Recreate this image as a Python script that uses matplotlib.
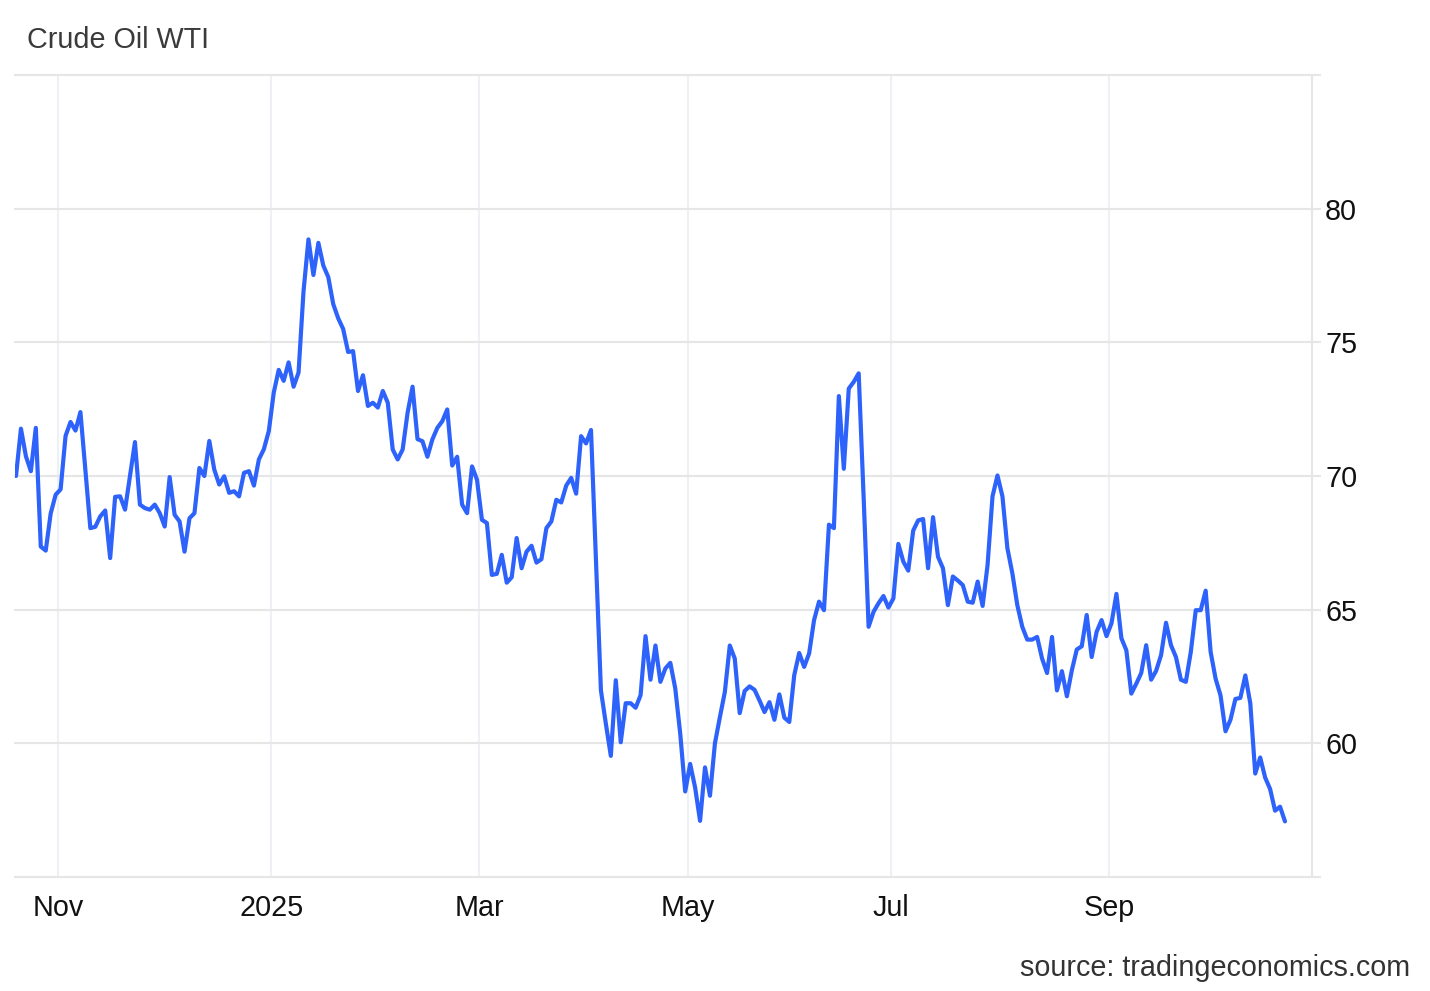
import numpy as np
import matplotlib
matplotlib.use("Agg")
import matplotlib.pyplot as plt

plt.rcParams["font.family"] = ["Liberation Sans", "DejaVu Sans"]

# daily WTI closes, one value per trading session (Oct 2024 - Oct 2025)
wti_close = [
    70.00, 71.77, 70.74, 70.18, 71.80, 67.36, 67.21, 68.60, 69.30, 69.50,
    71.50, 72.02, 71.70, 72.39, 70.20, 68.05, 68.10, 68.49, 68.71, 66.93,
    69.22, 69.24, 68.74, 70.00, 71.27, 68.93, 68.80, 68.74, 68.93, 68.61,
    68.11, 69.96, 68.55, 68.30, 67.17, 68.42, 68.61, 70.30, 70.00, 71.31,
    70.24, 69.68, 69.99, 69.37, 69.43, 69.24, 70.12, 70.18, 69.64, 70.62,
    71.00, 71.68, 73.12, 73.97, 73.56, 74.25, 73.34, 73.87, 76.90, 78.85,
    77.52, 78.72, 77.87, 77.44, 76.43, 75.90, 75.50, 74.64, 74.67, 73.18,
    73.77, 72.62, 72.74, 72.56, 73.18, 72.74, 70.99, 70.62, 70.99, 72.37,
    73.34, 71.38, 71.30, 70.72, 71.37, 71.80, 72.05, 72.49, 70.39, 70.72,
    68.93, 68.61, 70.36, 69.86, 68.36, 68.24, 66.30, 66.34, 67.05, 66.01,
    66.21, 67.68, 66.55, 67.17, 67.39, 66.76, 66.89, 68.05, 68.30, 69.11,
    69.01, 69.64, 69.93, 69.34, 71.49, 71.22, 71.72, 66.90, 61.98, 60.73,
    59.53, 62.36, 60.04, 61.50, 61.50, 61.33, 61.80, 64.01, 62.38, 63.66,
    62.30, 62.80, 63.01, 62.05, 60.36, 58.20, 59.23, 58.35, 57.10, 59.10,
    58.04, 60.00, 60.98, 61.92, 63.66, 63.17, 61.13, 61.96, 62.13, 62.00,
    61.60, 61.17, 61.54, 60.88, 61.83, 60.96, 60.80, 62.55, 63.38, 62.86,
    63.36, 64.61, 65.30, 64.98, 68.18, 68.05, 72.99, 70.27, 73.27, 73.52,
    73.84, 69.20, 64.36, 64.92, 65.24, 65.51, 65.08, 65.42, 67.46, 66.80,
    66.46, 67.96, 68.34, 68.39, 66.55, 68.46, 66.98, 66.55, 65.17, 66.24,
    66.09, 65.92, 65.30, 65.26, 66.05, 65.14, 66.67, 69.24, 70.02, 69.24,
    67.30, 66.36, 65.17, 64.36, 63.88, 63.88, 63.98, 63.17, 62.63, 63.98,
    61.98, 62.70, 61.76, 62.73, 63.51, 63.63, 64.80, 63.23, 64.17, 64.61,
    64.01, 64.49, 65.59, 63.93, 63.48, 61.86, 62.23, 62.63, 63.67, 62.38,
    62.71, 63.30, 64.51, 63.67, 63.23, 62.38, 62.30, 63.42, 64.98, 64.98,
    65.71, 63.42, 62.42, 61.79, 60.45, 60.88, 61.66, 61.70, 62.54, 61.50,
    58.87, 59.47, 58.72, 58.29, 57.48, 57.63, 57.08,
]

# first trading session of each labelled month (index into wti_close)
month_labels = ["Nov", "2025", "Mar", "May", "Jul", "Sep"]
month_first_session = [9, 52, 94, 136, 177, 221]

y_ticks = [55, 60, 65, 70, 75, 80, 85]
y_labels = ["", "60", "65", "70", "75", "80", ""]

LINE_BLUE = "#2d62fb"
GRID_GREY = "#e6e6e6"
VGRID = "#edf1f6"
FS = 20.7

fig = plt.figure(figsize=(14.3, 9.91), dpi=100)
ax = fig.add_axes([15 / 1430, 1 - 877 / 991, 1297 / 1430, 802 / 991])

x = np.arange(len(wti_close))
ax.plot(x, wti_close, color=LINE_BLUE, lw=3.0, solid_joinstyle="round",
        solid_capstyle="round", zorder=3)

ax.set_xlim(-0.2, 261.45)
ax.set_ylim(55, 85)

# horizontal grid
for yv in y_ticks:
    ax.axhline(yv, color=GRID_GREY, lw=1.5, zorder=1, clip_on=False)

# month grid
xt = [i - 0.5 for i in month_first_session]
ax.set_xticks(xt)
ax.set_xticklabels(month_labels)
for xv in xt:
    ax.axvline(xv, color=VGRID, lw=1.5, zorder=0)

ax.yaxis.tick_right()
ax.set_yticks(y_ticks)
ax.set_yticklabels(y_labels)

for side in ["top", "left", "bottom"]:
    ax.spines[side].set_visible(False)
ax.spines["right"].set_color(GRID_GREY)
ax.spines["right"].set_linewidth(1.5)

ax.tick_params(axis="y", length=6.5, width=1.5, color=GRID_GREY,
               labelsize=FS, labelcolor="#111111", pad=3)
ax.tick_params(axis="x", length=0, labelsize=FS, labelcolor="#111111", pad=12.5)

fig.text(27 / 1430, 1 - 48 / 991, "Crude Oil WTI", fontsize=FS,
         color="#3a3a3a", ha="left", va="baseline")
fig.text(1410 / 1430, 1 - 976 / 991, "source: tradingeconomics.com",
         fontsize=FS, color="#333333", ha="right", va="baseline")

fig.savefig("out.png", dpi=100)
